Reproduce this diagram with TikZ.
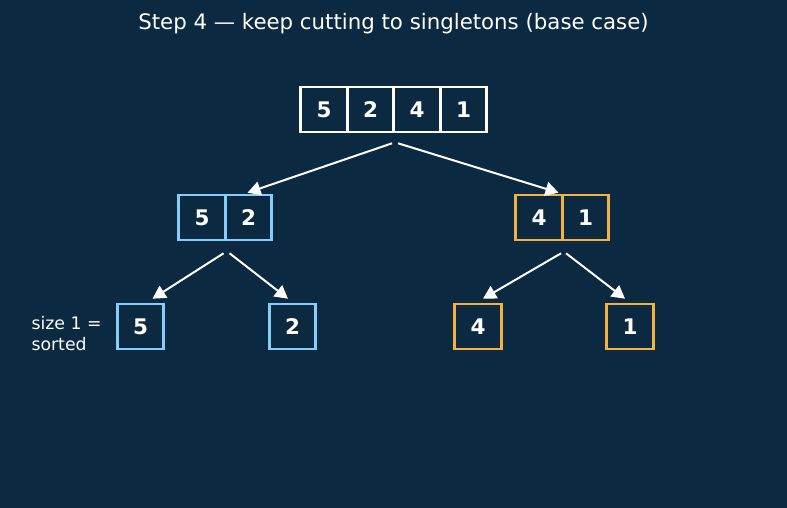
\documentclass[tikz,border=0pt]{standalone}
\usepackage{fontspec}
\setmainfont{DejaVu Sans}
\usetikzlibrary{arrows.meta}
\definecolor{bgnavy}{HTML}{0B2940}
\definecolor{leftblue}{HTML}{86CDF7}
\definecolor{rightorange}{HTML}{F4B042}
\tikzset{
  cell/.style={draw=white,line width=2.6pt,minimum width=46.5pt,minimum height=45pt,
    inner sep=0pt,text=white,font=\fontsize{21.5}{24}\selectfont\bfseries},
  arr/.style={white,line width=2pt,-{Triangle[length=13pt,width=14pt]}}
}
\begin{document}
\begin{tikzpicture}[x=1pt,y=-1pt]
  \fill[bgnavy] (0,0) rectangle (787,508);
  \useasboundingbox (0,0) rectangle (787,508);
  \node[text=white,font=\fontsize{21.3}{24}\selectfont] (title) at (393.5,24) {Step 4 — keep cutting to singletons (base case)};

  % whole array
  \foreach \v [count=\i] in {5,2,4,1} {
   \node[cell] (t\i) at (277.5+46.5*\i,109.5) {\v};
  }
  % halves
  \foreach \v [count=\i] in {5,2} {
   \node[cell,draw=leftblue] (m\i) at (155.5+46.5*\i,217.5) {\v};
  }
  \foreach \v [count=\i] in {4,1} {
   \node[cell,draw=rightorange] (r\i) at (492.5+46.5*\i,217.5) {\v};
  }
  % singletons
  \node[cell,draw=leftblue] (b1) at (140.5,326.5) {5};
  \node[cell,draw=leftblue] (b2) at (292.5,326.5) {2};
  \node[cell,draw=rightorange] (b3) at (478,326.5) {4};
  \node[cell,draw=rightorange] (b4) at (630,326.5) {1};
  \node[text=white,align=left,anchor=west,font=\fontsize{17.3}{21}\selectfont] (note) at (28,334) {size 1 =\\sorted};

  \draw[arr] ([xshift=-3pt,yshift=-10pt]t2.south east) -- ([xshift=-1pt,yshift=1pt]m2.north);
  \draw[arr] ([xshift=3pt,yshift=-10pt]t2.south east) -- ([xshift=-5pt,yshift=1pt]r1.north east);
  \draw[arr] ([xshift=-3pt,yshift=-12pt]m1.south east) -- ([xshift=12pt,yshift=4pt]b1.north);
  \draw[arr] ([xshift=3pt,yshift=-12pt]m1.south east) -- ([xshift=-4.5pt,yshift=4pt]b2.north);
  \draw[arr] ([xshift=-2.5pt,yshift=-12pt]r1.south east) -- ([xshift=5pt,yshift=4pt]b3.north);
  \draw[arr] ([xshift=2.5pt,yshift=-12pt]r1.south east) -- ([xshift=-5pt,yshift=4pt]b4.north);
 \end{tikzpicture}
\end{document}
